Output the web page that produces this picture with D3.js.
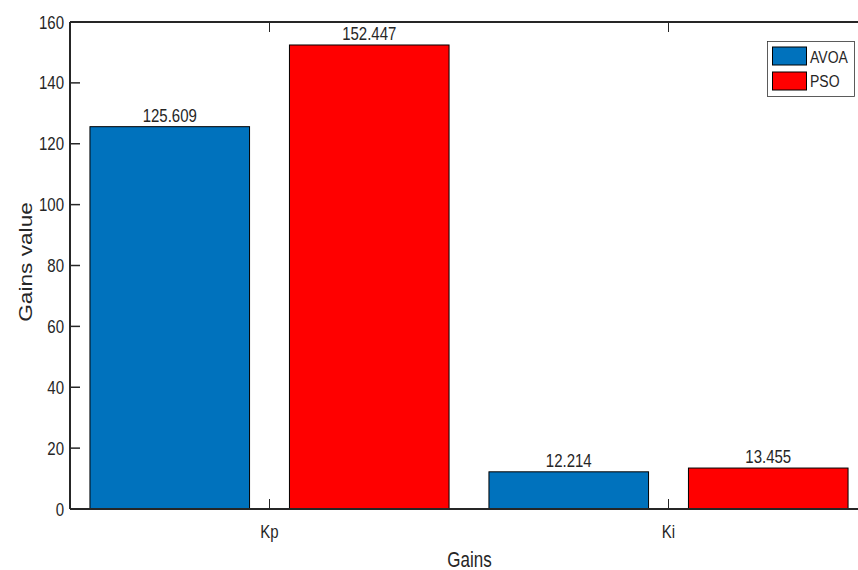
<!DOCTYPE html>
<html><head><meta charset="utf-8">
<script src="https://cdn.jsdelivr.net/npm/d3@7"></script>
<style>body{margin:0;background:#fff}svg{display:block}text{font-family:"Liberation Sans",Arial,sans-serif;fill:#262626}</style>
</head><body>
<script>
const categories = ["Kp", "Ki"];
const seriesNames = ["AVOA", "PSO"];
const avoa = [125.609, 12.214];
const pso = [152.447, 13.455];
const yTicks = [0, 20, 40, 60, 80, 100, 120, 140, 160];
const colors = ["#0072BD", "#FF0000"];

(function () {
const W = 858, H = 570;
const svg = d3.select("body").append("svg").attr("width", W).attr("height", H);
const pl = 70, pt = 22, pb = 509;
const x = d3.scaleLinear().domain([0.5, 2.5]).range([pl, pl + 798]);
const y = d3.scaleLinear().domain([0, 160]).range([pb, pt]);
const series = [avoa, pso];
const barW = 0.4, off = [-0.25, 0.25];
const fmt = d3.format(".3f");
const SY = 1.22;

function txt(px, py, s, fs, anchor, extra) {
  return svg.append("text")
    .attr("transform", `translate(${px},${py}) scale(1,${SY})` + (extra || ""))
    .attr("text-anchor", anchor || "middle").attr("font-size", fs).text(s);
}

series.forEach((s, si) => {
  svg.append("g").selectAll("rect").data(s).enter().append("rect")
    .attr("x", (d, i) => x(i + 1 + off[si] - barW / 2))
    .attr("width", x(barW) - x(0))
    .attr("y", d => y(d))
    .attr("height", d => y(0) - y(d))
    .attr("fill", colors[si]).attr("stroke", "#000").attr("stroke-width", 1);
  s.forEach((d, i) => txt(x(i + 1 + off[si]), y(d) - 5, fmt(d), 15));
});

const ax = svg.append("g").attr("stroke", "#262626").attr("fill", "none");
ax.append("line").attr("x1", pl).attr("x2", W + 20).attr("y1", pb).attr("y2", pb).attr("stroke-width", 2);
ax.append("line").attr("x1", pl).attr("x2", W + 20).attr("y1", pt).attr("y2", pt).attr("stroke-width", 2);
ax.append("line").attr("x1", pl).attr("x2", pl).attr("y1", pt).attr("y2", pb).attr("stroke-width", 2);
yTicks.forEach(t => {
  ax.append("line").attr("x1", pl).attr("x2", pl + 10).attr("y1", y(t)).attr("y2", y(t)).attr("stroke-width", 1.5);
  txt(pl - 6, y(t) + 6.5, t, 15, "end");
});
categories.forEach((c, i) => {
  ax.append("line").attr("x1", x(i + 1)).attr("x2", x(i + 1)).attr("y1", pb).attr("y2", pb - 10).attr("stroke-width", 1);
  ax.append("line").attr("x1", x(i + 1)).attr("x2", x(i + 1)).attr("y1", pt).attr("y2", pt + 10).attr("stroke-width", 1);
  txt(x(i + 1), 538, c, 15);
});
svg.append("text").attr("transform", `translate(469.5,567) scale(1,1.3)`).attr("text-anchor", "middle").attr("font-size", 17).text("Gains");
svg.append("text").attr("transform", `translate(32,262) scale(1,1.26) rotate(-90)`).attr("text-anchor", "middle").attr("font-size", 18).text("Gains value");

const lg = svg.append("g");
lg.append("rect").attr("x", 767.5).attr("y", 41.5).attr("width", 87).attr("height", 55).attr("fill", "#fff").attr("stroke", "#333").attr("stroke-width", 0.8);
seriesNames.forEach((n, i) => {
  lg.append("rect").attr("x", 772.5).attr("y", 47 + i * 25).attr("width", 34).attr("height", 18).attr("fill", colors[i]).attr("stroke", "#000");
  txt(810, 63.3 + i * 24, n, 14, "start");
});
})();
</script>
</body></html>
